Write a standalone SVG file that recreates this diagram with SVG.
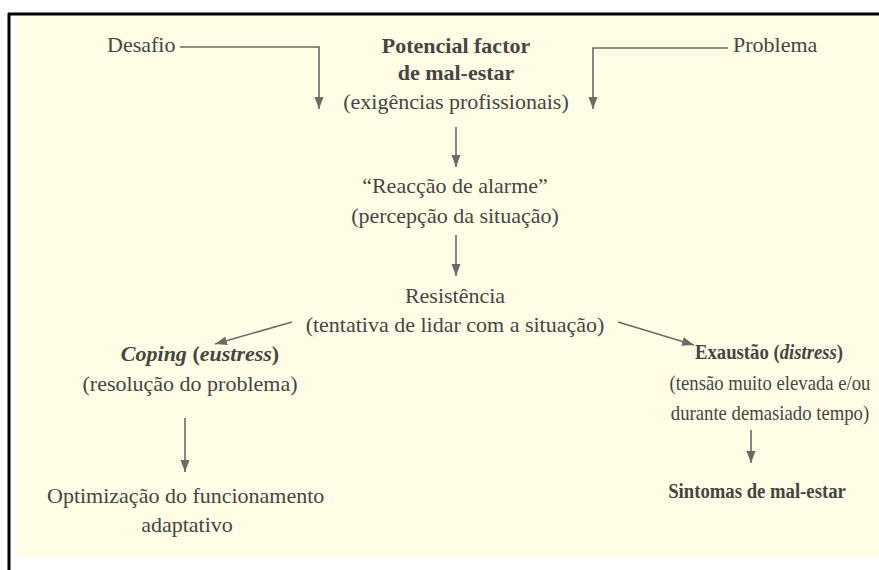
<svg xmlns="http://www.w3.org/2000/svg" width="879" height="570" viewBox="0 0 879 570">
  <style>
    text { font-family: "Liberation Serif", "Times New Roman", serif; font-size: 22px; fill: #464541; }
    .c { text-anchor: middle; }
    .b { font-weight: bold; }
    .i { font-style: italic; }
    .conn path { fill: none; stroke: #6a6a66; stroke-width: 1.6; }
  </style>
  <defs>
    <marker id="ah" markerUnits="userSpaceOnUse" markerWidth="13" markerHeight="10" refX="12" refY="4.5" orient="auto" viewBox="0 0 13 10">
      <path d="M0,0 L12,4.5 L0,9 Z" fill="#6a6a66"/>
    </marker>
  </defs>
  <rect x="0" y="0" width="879" height="570" fill="#ffffff"/>
  <rect x="17" y="15" width="862" height="542" fill="#fffde6"/>
  <path d="M8,14 H879 M9,13 V570" stroke="#000" stroke-width="3" fill="none"/>

  <g id="desafio"><text x="107" y="52">Desafio</text></g>
  <g id="problema"><text x="733" y="52">Problema</text></g>
  <g id="potencial">
    <text class="c b" x="456" y="53">Potencial factor</text>
    <text class="c b" x="456" y="80">de mal-estar</text>
    <text class="c" x="456" y="109">(exigências profissionais)</text>
  </g>
  <g id="alarme">
    <text class="c" x="455" y="193">“Reacção de alarme”</text>
    <text class="c" x="455" y="223">(percepção da situação)</text>
  </g>
  <g id="resistencia">
    <text class="c" x="455" y="303">Resistência</text>
    <text class="c" x="455" y="332">(tentativa de lidar com a situação)</text>
  </g>
  <g id="coping">
    <text class="c b" x="200" y="361"><tspan class="i">Coping</tspan> (<tspan class="i">eustress</tspan>)</text>
    <text class="c" x="190" y="391">(resolução do problema)</text>
  </g>
  <g id="optimizacao">
    <text x="47" y="503">Optimização do funcionamento</text>
    <text class="c" x="187" y="532">adaptativo</text>
  </g>
  <g id="exaustao">
    <text class="c b" transform="translate(769,359) scale(0.85,1)">Exaustão (<tspan class="i">distress</tspan>)</text>
    <text class="c" transform="translate(770,390) scale(0.85,1)">(tensão muito elevada e/ou</text>
    <text class="c" transform="translate(770,420) scale(0.85,1)">durante demasiado tempo)</text>
  </g>
  <g id="sintomas"><text class="c b" transform="translate(757,498) scale(0.85,1)">Sintomas de mal-estar</text></g>

  <g id="connectors" class="conn">
    <path d="M180,47 H319 V109" marker-end="url(#ah)"/>
    <path d="M728,48 H593 V109" marker-end="url(#ah)"/>
    <path d="M456,127 V167" marker-end="url(#ah)"/>
    <path d="M456,235 V276" marker-end="url(#ah)"/>
    <path d="M292,322 L215,344" marker-end="url(#ah)"/>
    <path d="M618,322 L694,345" marker-end="url(#ah)"/>
    <path d="M185,418 V472" marker-end="url(#ah)"/>
    <path d="M751,430 V463" marker-end="url(#ah)"/>
  </g>
</svg>
